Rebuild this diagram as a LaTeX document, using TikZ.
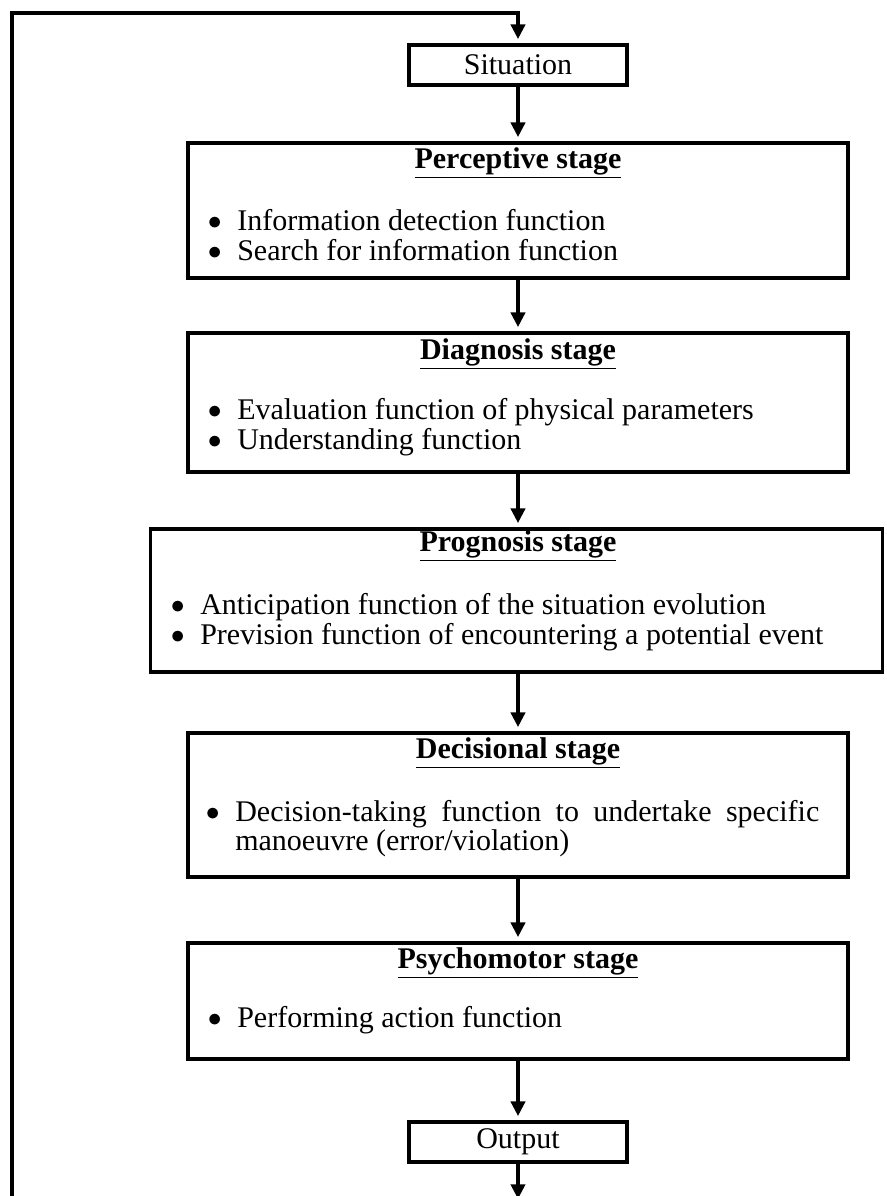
\documentclass[tikz,border=0pt]{standalone}
\usepackage{fontspec}
\setmainfont{Liberation Serif}
\usetikzlibrary{arrows.meta}
\newcommand{\bul}{\makebox[22pt][l]{\raisebox{0.5pt}{$\bullet$}}}
\begin{document}
\begin{tikzpicture}[x=0.75pt,y=-0.75pt,
  every node/.style={font=\fontsize{22.5}{22}\selectfont},
  box/.style={draw,line width=2.8pt,inner sep=0pt},
  smallbox/.style={box,minimum width=163.5pt,minimum height=30pt},
  stagebox/.style={box,minimum width=495pt},
  title/.style={inner sep=0pt,font=\fontsize{22.5}{22}\selectfont\bfseries},
  item/.style={inner sep=0pt,anchor=west},
  conn/.style={line width=2.8pt,-{Triangle[length=11pt,width=10.5pt]},shorten >=3pt}]
\useasboundingbox (0,0) rectangle (886,1196);
% boxes
\node[smallbox] (sit) at (518,65) {Situation};
\node[stagebox,minimum height=101.25pt] (per) at (518,210.5) {};
\node[stagebox,minimum height=104.25pt] (dia) at (518,402.5) {};
\node[box,minimum width=549pt,minimum height=107.25pt] (pro) at (516.5,600.5) {};
\node[stagebox,minimum height=108pt] (dec) at (518,805) {};
\node[stagebox,minimum height=87pt] (psy) at (518,1001) {};
\node[smallbox] (out) at (518,1142) {Output};
% titles
\node[title] (tper) at (518,163) {\underline{Perceptive stage}};
\node[title] (tdia) at (518,354) {\underline{Diagnosis stage}};
\node[title] (tpro) at (518,546) {\underline{Prognosis stage}};
\node[title] (tdec) at (518,753) {\underline{Decisional stage}};
\node[title] (tpsy) at (518,963) {\underline{Psychomotor stage}};
% items
\node[item] (p1) at (207.7,220) {\bul Information detection function};
\node[item] (p2) at (207.7,250) {\bul Search for information function};
\node[item] (d1) at (207.7,412) {\bul Evaluation function of physical parameters};
\node[item] (d2) at (207.7,442) {\bul Understanding function};
\node[item] (g1) at (170.7,607) {\bul Anticipation function of the situation evolution};
\node[item] (g2) at (170.7,637) {\bul Prevision function of encountering a potential event};
\node[inner sep=0pt,anchor=base west] (c1) at (205.7,821)
  {\bul\parbox[t]{438pt}{\hyphenpenalty=10000 Decision-taking function to undertake specific manoeuvre (error/violation)}};
\node[item] (m1) at (207.7,1020) {\bul Performing action function};
% connectors
\coordinate (bl) at (12,1199);
\coordinate (tl) at (12,13);
\coordinate (ob) at (518,1199);
\draw[conn] (sit.south) -- (per.north);
\draw[conn] (per.south) -- (dia.north);
\draw[conn] (dia.south) -- (pro.north -| dia.south);
\draw[conn] (pro.south -| dec.north) -- (dec.north);
\draw[conn] (dec.south) -- (psy.north);
\draw[conn] (psy.south) -- (out.north);
\draw[conn,shorten >=0pt] (out.south) -- (ob);
\draw[conn] (bl) -- (tl) -| (sit.north);
\end{tikzpicture}
\end{document}
